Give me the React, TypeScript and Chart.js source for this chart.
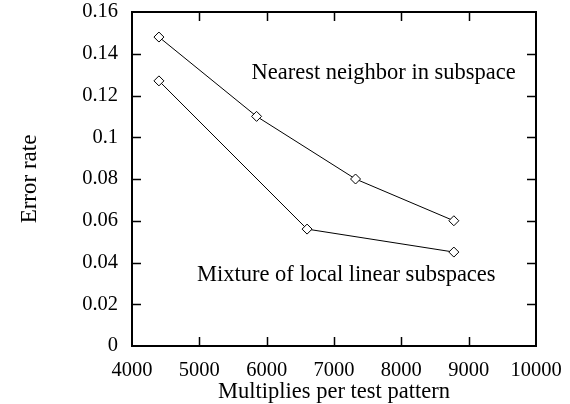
import React, { useEffect, useRef } from "react";
import { Chart, registerables } from "chart.js";

Chart.register(...registerables);

const nnMultiplies = [4400, 5850, 7320, 8780];
const nnErrorRate = [0.148, 0.11, 0.08, 0.06];
const mixMultiplies = [4400, 6600, 8780];
const mixErrorRate = [0.127, 0.056, 0.045];

const xMin = 4000;
const xMax = 10000;
const xStep = 1000;
const yMin = 0;
const yMax = 0.16;
const yStep = 0.02;

const nnLabel = "Nearest neighbor in subspace";
const mixLabel = "Mixture of local linear subspaces";
const xTitle = "Multiplies per test pattern";
const yTitle = "Error rate";

const FONT = "'Liberation Serif', 'Times New Roman', serif";

const framePlugin = {
  id: "frame",
  afterDraw(chart: any) {
    const { ctx, chartArea: a, scales } = chart;
    const x = scales.x;
    const y = scales.y;
    ctx.save();
    ctx.strokeStyle = "#000";
    ctx.lineWidth = 2;
    ctx.strokeRect(a.left, a.top, a.right - a.left, a.bottom - a.top);
    ctx.lineWidth = 1.5;
    const tl = 9;
    ctx.beginPath();
    x.ticks.forEach((t: any) => {
      const px = Math.round(x.getPixelForValue(t.value)) + 0.5;
      if (t.value === xMin || t.value === xMax) return;
      ctx.moveTo(px, a.bottom);
      ctx.lineTo(px, a.bottom - tl);
      ctx.moveTo(px, a.top);
      ctx.lineTo(px, a.top + tl);
    });
    y.ticks.forEach((t: any) => {
      const py = Math.round(y.getPixelForValue(t.value)) + 0.5;
      if (Math.abs(t.value - yMin) < 1e-9 || Math.abs(t.value - yMax) < 1e-9) return;
      ctx.moveTo(a.left, py);
      ctx.lineTo(a.left + tl, py);
      ctx.moveTo(a.right, py);
      ctx.lineTo(a.right - tl, py);
    });
    ctx.stroke();

    ctx.fillStyle = "#000";
    ctx.font = `22.5px ${FONT}`;
    ctx.textBaseline = "middle";
    ctx.textAlign = "right";
    ctx.fillText(nnLabel, x.getPixelForValue(9700), y.getPixelForValue(0.1305));
    ctx.fillText(mixLabel, x.getPixelForValue(9400), y.getPixelForValue(0.034));

    ctx.font = `22.5px ${FONT}`;
    ctx.textAlign = "center";
    ctx.fillText(xTitle, (a.left + a.right) / 2, 392);
    ctx.font = `23px ${FONT}`;
    ctx.save();
    ctx.translate(30, (a.top + a.bottom) / 2);
    ctx.rotate(-Math.PI / 2);
    ctx.fillText(yTitle, 0, 0);
    ctx.restore();
    ctx.restore();
  },
};

function makeSeries(xs: number[], ys: number[]) {
  return xs.map((v, i) => ({ x: v, y: ys[i] }));
}

export default function App() {
  const ref = useRef<HTMLCanvasElement>(null);
  useEffect(() => {
    if (!ref.current) return;
    const common = {
      showLine: true,
      borderColor: "#000",
      borderWidth: 1,
      pointStyle: "rectRot",
      pointRadius: 5,
      pointBackgroundColor: "#fff",
      pointBorderColor: "#000",
      pointBorderWidth: 1,
      tension: 0,
    };
    const chart = new Chart(ref.current, {
      type: "scatter",
      data: {
        datasets: [
          { label: nnLabel, data: makeSeries(nnMultiplies, nnErrorRate), ...common },
          { label: mixLabel, data: makeSeries(mixMultiplies, mixErrorRate), ...common },
        ],
      },
      options: {
        animation: false,
        responsive: false,
        layout: { padding: { left: 0, top: 12, right: 34, bottom: 0 } },
        plugins: { legend: { display: false }, tooltip: { enabled: false } },
        scales: {
          x: {
            type: "linear",
            min: xMin,
            max: xMax,
            grid: { display: false, drawTicks: false },
            border: { display: false },
            ticks: {
              stepSize: xStep,
              padding: 12,
              color: "#000",
              maxRotation: 0,
              font: { family: FONT, size: 20.5 },
              callback: (v: any) => String(v),
            },
            afterFit: (s: any) => {
              s.height = 58;
              s.paddingLeft = 0;
              s.paddingRight = 0;
            },
          },
          y: {
            type: "linear",
            min: yMin,
            max: yMax,
            grid: { display: false, drawTicks: false },
            border: { display: false },
            ticks: {
              stepSize: yStep,
              padding: 14,
              color: "#000",
              font: { family: FONT, size: 20.5 },
              callback: (v: any) => String(Number(Number(v).toFixed(2))),
            },
            afterFit: (s: any) => {
              s.width = 132;
              s.paddingTop = 0;
              s.paddingBottom = 0;
            },
          },
        },
      } as any,
      plugins: [framePlugin],
    });
    return () => chart.destroy();
  }, []);
  return (
    <div style={{ position: "fixed", left: 0, top: 0, width: 570, height: 404, background: "#fff" }}>
      <canvas ref={ref} width={570} height={404} />
    </div>
  );
}
